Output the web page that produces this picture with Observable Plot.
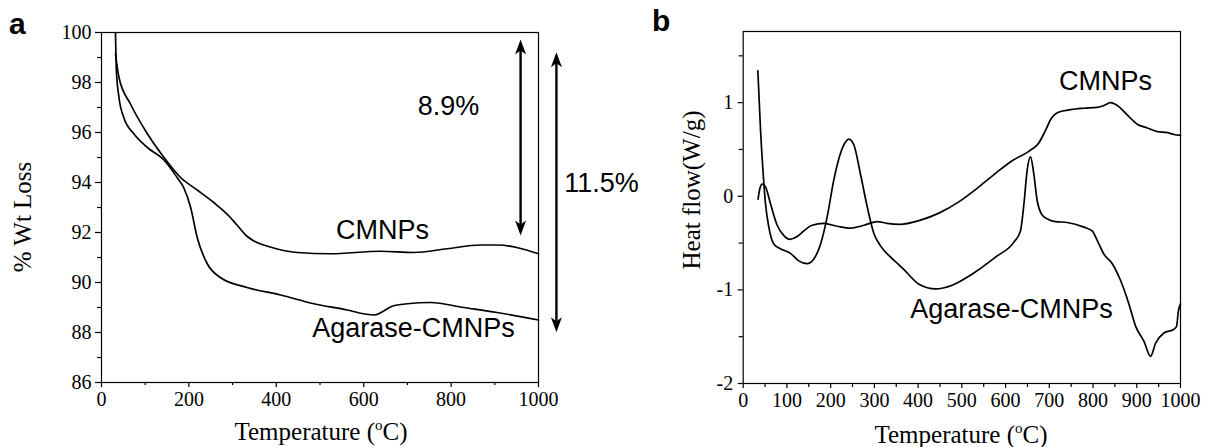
<!DOCTYPE html>
<html>
<head>
<meta charset="utf-8">
<script src="https://cdn.jsdelivr.net/npm/d3@7"></script>
<script src="https://cdn.jsdelivr.net/npm/@observablehq/plot@0.6"></script>
<style>
  html, body { margin: 0; padding: 0; background: #fff; }
  #wrap { position: relative; width: 1210px; height: 447px; overflow: hidden; background: #fff; }
  #wrap svg { position: absolute; top: 0; }
  .ttl { position: absolute; font-family: "Liberation Serif", serif; font-size: 25px; color: #000; white-space: nowrap; line-height: 1; }
  .ttl sup { font-size: 15px; vertical-align: 0; position: relative; top: -10px; }
  .pl { position: absolute; font-family: "Liberation Sans", Arial, sans-serif; font-weight: bold; font-size: 30px; color: #000; line-height: 1; }
</style>
</head>
<body>
<div id="wrap">
  <div class="pl" style="left:9px; top:9px;">a</div>
  <div class="pl" style="left:652px; top:6px;">b</div>
  <div class="ttl" id="xa" style="left:321px; top:419px; transform: translateX(-50%);">Temperature (<sup>o</sup>C)</div>
  <div class="ttl" id="xb" style="left:961px; top:422px; transform: translateX(-50%);">Temperature (<sup>o</sup>C)</div>
  <div class="ttl" id="ya" style="left:22px; top:217px; transform: translate(-50%,-50%) rotate(-90deg);">% Wt Loss</div>
  <div class="ttl" id="yb" style="left:691px; top:190px; transform: translate(-50%,-50%) rotate(-90deg);">Heat flow(W/g)</div>
</div>
<script>
// ---------- Panel a: TGA ----------
const tgaCmnpsT = [32, 40, 66, 105, 143, 181, 219, 257, 295, 310, 333, 350, 371, 400, 448, 524, 638, 715, 791, 867, 905, 1000];
const tgaCmnpsW = [99.15, 98.2, 97.15, 95.95, 95.0, 94.2, 93.7, 93.2, 92.6, 92.3, 91.85, 91.65, 91.5, 91.35, 91.2, 91.15, 91.25, 91.2, 91.35, 91.5, 91.5, 91.15];
const tgaAgaT = [32, 34, 40, 51, 74, 105, 143, 173, 188, 204, 219, 242, 272, 333, 410, 486, 562, 600, 625, 645, 665, 700, 753, 829, 905, 1000];
const tgaAgaW = [100.0, 98.5, 97.4, 96.6, 95.95, 95.4, 94.9, 94.2, 93.8, 93.0, 91.8, 90.75, 90.2, 89.8, 89.5, 89.15, 88.9, 88.75, 88.7, 88.85, 89.05, 89.15, 89.2, 89.0, 88.8, 88.5];
const tgaYTicks = [86, 88, 90, 92, 94, 96, 98, 100];
const tgaYMinor = [87, 89, 91, 93, 95, 97, 99];
const tgaXTicks = [0, 200, 400, 600, 800, 1000];
const tgaXMinor = [100, 300, 500, 700, 900];
const tgaLabels = ["CMNPs", "Agarase-CMNPs", "8.9%"];
const tgaLabelT = [643, 714, 794];
const tgaLabelW = [92.08, 88.18, 97.06];
const tgaSideLabel = ["11.5%"];
const tgaSideT = [1059];
const tgaSideW = [93.95];
const arrowT = [959, 1041];
const arrowTop = [99.72, 99.21];
const arrowBottom = [91.88, 88.01];

// ---------- Panel b: DSC ----------
const dscCmnpsT = [34, 38, 43.4, 51, 62.4, 77.7, 93, 106.6, 123.4, 138.6, 157.7, 184, 215, 245, 276, 306.5, 329, 358, 402, 447.5, 493, 539, 577, 615, 653, 676, 691, 703, 722, 748.5, 779, 809.5, 825, 840, 855.5, 878, 901, 924, 947, 970, 985, 1000];
const dscCmnpsV = [-0.03, 0.08, 0.13, 0.10, -0.08, -0.31, -0.42, -0.46, -0.43, -0.37, -0.31, -0.29, -0.32, -0.34, -0.31, -0.27, -0.29, -0.30, -0.26, -0.18, -0.06, 0.10, 0.245, 0.38, 0.48, 0.57, 0.70, 0.82, 0.90, 0.925, 0.94, 0.95, 0.97, 1.0, 0.97, 0.87, 0.77, 0.73, 0.69, 0.68, 0.66, 0.65];
const dscAgaT = [33.5, 39.6, 45.7, 51, 58.6, 70, 85, 108, 127, 146, 161.5, 177, 192, 207, 222.5, 234, 241.6, 253, 268, 283.5, 299, 314, 337, 358, 371, 402, 440, 478, 524, 577, 619, 634, 642, 649.4, 657, 664.5, 672, 683.7, 699, 714, 741, 779, 798, 809.5, 825, 844, 863, 882, 897.5, 916.5, 931.5, 943, 962, 985, 991, 995, 1000];
const dscAgaV = [1.34, 0.71, 0.24, -0.08, -0.33, -0.51, -0.56, -0.61, -0.69, -0.72, -0.67, -0.51, -0.22, 0.17, 0.46, 0.58, 0.61, 0.55, 0.24, -0.11, -0.40, -0.53, -0.65, -0.74, -0.80, -0.94, -0.99, -0.95, -0.83, -0.65, -0.49, -0.37, -0.08, 0.28, 0.42, 0.24, -0.04, -0.20, -0.25, -0.27, -0.28, -0.33, -0.37, -0.47, -0.62, -0.72, -0.90, -1.15, -1.39, -1.55, -1.71, -1.57, -1.46, -1.42, -1.39, -1.23, -1.15];
const dscYTicks = [-2, -1, 0, 1];
const dscYMinor = [-1.5, -0.5, 0.5, 1.5];
const dscXTicks = [0, 100, 200, 300, 400, 500, 600, 700, 800, 900, 1000];
const dscXMinor = [50, 150, 250, 350, 450, 550, 650, 750, 850, 950];
const dscLabels = ["CMNPs", "Agarase-CMNPs"];
const dscLabelT = [828.5, 613.5];
const dscLabelV = [1.226, -1.204];

// ---------- helpers ----------
const toRows = (xs, ys) => xs.map((x, i) => ({x, y: ys[i]}));
const headUp = {draw(ctx) { ctx.moveTo(0, 0); ctx.lineTo(5.5, 15); ctx.lineTo(0, 11); ctx.lineTo(-5.5, 15); ctx.closePath(); }};
const headDown = {draw(ctx) { ctx.moveTo(0, 0); ctx.lineTo(5.5, -15); ctx.lineTo(0, -11); ctx.lineTo(-5.5, -15); ctx.closePath(); }};
const serif = "Liberation Serif";
const svgStyle = {fontFamily: serif, fontSize: "20px", color: "#000", background: "transparent", overflow: "visible"};
const sans = "Liberation Sans";
const blank = () => "";
const tickText = {fontFamily: serif, fontSize: 20, strokeWidth: 1.2, label: null};

const tgaLine1 = toRows(tgaCmnpsT, tgaCmnpsW);
const tgaLine2 = toRows(tgaAgaT, tgaAgaW);
const tgaText = tgaLabels.map((t, i) => ({t, x: tgaLabelT[i], y: tgaLabelW[i]}));
const tgaSide = tgaSideLabel.map((t, i) => ({t, x: tgaSideT[i], y: tgaSideW[i]}));
const arrows = arrowT.map((x, i) => ({x, top: arrowTop[i], bottom: arrowBottom[i]}));

const plotA = Plot.plot({
  width: 600, height: 447,
  marginLeft: 101, marginRight: 62, marginTop: 32, marginBottom: 65,
  style: svgStyle,
  x: {domain: [0, 1000]},
  y: {domain: [86, 100]},
  marks: [
    Plot.axisY(tgaYTicks, {...tickText, tickSize: 6, tickPadding: 4, tickFormat: d => String(d)}),
    Plot.axisY(tgaYMinor, {...tickText, tickSize: 4, tickFormat: blank}),
    Plot.axisX(tgaXTicks, {...tickText, tickSize: 5, tickPadding: 4, tickFormat: d => String(d)}),
    Plot.axisX(tgaXMinor, {...tickText, tickSize: 3, tickFormat: blank}),
    Plot.frame({stroke: "#000", strokeWidth: 1.2}),
    Plot.line(tgaLine1, {x: "x", y: "y", stroke: "#000", strokeWidth: 1.7, curve: "monotone-x"}),
    Plot.line(tgaLine2, {x: "x", y: "y", stroke: "#000", strokeWidth: 1.7, curve: "monotone-x"}),
    Plot.ruleX(arrows, {x: "x", y1: "top", y2: "bottom", stroke: "#000", strokeWidth: 2.4, insetTop: 9, insetBottom: 9}),
    Plot.dot(arrows, {x: "x", y: "top", symbol: headUp, fill: "#000", stroke: "none", r: 5}),
    Plot.dot(arrows, {x: "x", y: "bottom", symbol: headDown, fill: "#000", stroke: "none", r: 5}),
    Plot.text(tgaText, {x: "x", y: "y", text: "t", fontFamily: sans, fontSize: 27, fill: "#000", textAnchor: "middle", lineAnchor: "middle"}),
    Plot.text(tgaSide, {x: "x", y: "y", text: "t", fontFamily: sans, fontSize: 27, fill: "#000", textAnchor: "start", lineAnchor: "middle"})
  ]
});
plotA.style.left = "0px";

const dscLine1 = toRows(dscCmnpsT, dscCmnpsV);
const dscLine2 = toRows(dscAgaT, dscAgaV);
const dscText = dscLabels.map((t, i) => ({t, x: dscLabelT[i], y: dscLabelV[i]}));

const plotB = Plot.plot({
  width: 610, height: 447,
  marginLeft: 142.7, marginRight: 30, marginTop: 31, marginBottom: 64,
  style: svgStyle,
  x: {domain: [0, 1000]},
  y: {domain: [-2, 1.76]},
  marks: [
    Plot.axisY(dscYTicks, {...tickText, tickSize: 5, tickPadding: 5, tickFormat: d => String(d)}),
    Plot.axisY(dscYMinor, {...tickText, tickSize: 4, tickFormat: blank}),
    Plot.axisX(dscXTicks, {...tickText, tickSize: 5, tickPadding: 4, tickFormat: d => String(d)}),
    Plot.axisX(dscXMinor, {...tickText, tickSize: 4, tickFormat: blank}),
    Plot.frame({stroke: "#000", strokeWidth: 1.2}),
    Plot.line(dscLine1, {x: "x", y: "y", stroke: "#000", strokeWidth: 1.7, curve: "monotone-x"}),
    Plot.line(dscLine2, {x: "x", y: "y", stroke: "#000", strokeWidth: 1.7, curve: "monotone-x"}),
    Plot.text(dscText, {x: "x", y: "y", text: "t", fontFamily: sans, fontSize: 27, fill: "#000", textAnchor: "middle", lineAnchor: "middle"})
  ]
});
plotB.style.left = "600px";

const wrap = document.getElementById("wrap");
wrap.appendChild(plotA);
wrap.appendChild(plotB);
</script>
</body>
</html>
